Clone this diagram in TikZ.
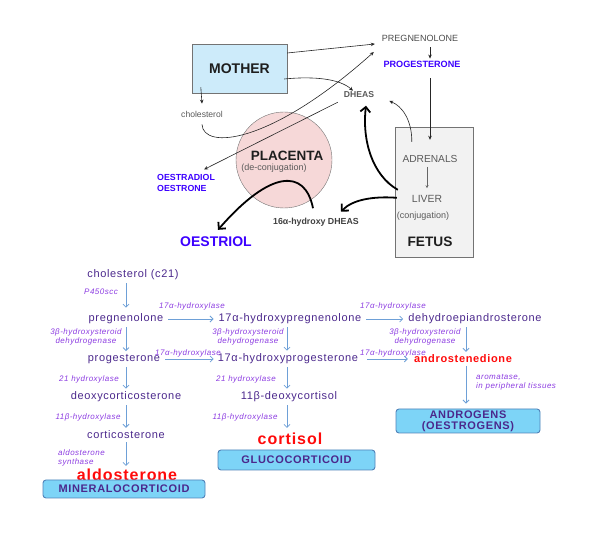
\documentclass[tikz,border=0pt]{standalone}
\usepackage{fontspec}
\setmainfont{Liberation Sans}
\newfontfamily\pathfont{Liberation Sans}[LetterSpace=6]
\usetikzlibrary{arrows.meta,calc}
\definecolor{ptext}{RGB}{75,40,140}
\definecolor{enzc}{RGB}{140,60,225}
\definecolor{hotred}{RGB}{255,10,10}
\definecolor{hblue}{RGB}{60,0,255}
\definecolor{arrowblue}{RGB}{110,160,215}
\definecolor{boxfill}{RGB}{125,212,247}
\definecolor{boxline}{RGB}{80,130,185}
\definecolor{motherfill}{RGB}{205,235,250}
\definecolor{placfill}{RGB}{246,216,216}
\definecolor{fetusfill}{RGB}{242,242,242}
\definecolor{gtext}{RGB}{90,90,90}
\definecolor{dtext}{RGB}{30,30,30}
\tikzset{
  ptxt/.style={font=\pathfont\fontsize{11}{13}\selectfont, text=ptext, inner sep=1pt},
  enz/.style={font=\pathfont\itshape\fontsize{8}{9}\selectfont, text=enzc, inner sep=0pt, align=center},
  hot/.style={font=\pathfont\bfseries\fontsize{11}{13}\selectfont, text=hotred, inner sep=1pt},
  bighot/.style={font=\pathfont\bfseries\fontsize{16}{18}\selectfont, text=hotred, inner sep=1pt},
  cbox/.style={draw=boxline, fill=boxfill, rounded corners=3pt, line width=0.9pt,
    font=\pathfont\bfseries\fontsize{11}{11}\selectfont, text=ptext, align=center, inner sep=0pt},
  parrow/.style={draw=arrowblue, line width=0.8pt, -{Straight Barb[length=3pt,width=6pt]},
    shorten >=2pt, shorten <=2pt},
  tarrow/.style={draw=black!85, line width=0.6pt, -{Stealth[length=4pt,width=3.5pt]}},
  fatarrow/.style={draw=black, line width=1.8pt, -{Straight Barb[length=5pt,width=10pt]}},
  gtxt/.style={text=gtext, inner sep=1pt},
}
\begin{document}
\begin{tikzpicture}[x=1pt,y=-1pt]
\useasboundingbox (0,0) rectangle (592,534);
% ---------------- top part ----------------
\node[draw=black!55, fill=motherfill, minimum width=95pt, minimum height=49pt,
  font=\bfseries\fontsize{14}{16}\selectfont, text=dtext] (mother) at (239.5,68.5) {MOTHER};
\node[circle, draw=black!55, fill=placfill, minimum size=96pt, inner sep=0pt] (plac) at (284,160) {};
\node[font=\bfseries\fontsize{13.5}{15}\selectfont, text=dtext, inner sep=0pt] (plact) at (287,156) {PLACENTA};
\node[font=\fontsize{9}{10}\selectfont, gtxt, inner sep=0pt] (deconj) at (274,168) {(de-conjugation)};
\node[draw=black!55, fill=fetusfill, minimum width=78pt, minimum height=130pt] (fetus) at (434,192) {};
\node[font=\fontsize{10.2}{12}\selectfont, gtxt] (adren) at (430,159) {ADRENALS};
\node[font=\fontsize{10.4}{12}\selectfont, gtxt] (liver) at (427,199) {LIVER};
\node[font=\fontsize{9}{10}\selectfont, gtxt] (conj) at (423,216) {(conjugation)};
\node[font=\bfseries\fontsize{13.7}{15}\selectfont, text=dtext] (fetust) at (430,242) {FETUS};
\node[font=\fontsize{9}{10}\selectfont, text=black!70, inner sep=1pt] (pregt) at (420,38) {PREGNENOLONE};
\node[font=\bfseries\fontsize{9.1}{10}\selectfont, text=hblue, inner sep=1pt] (progt) at (422,64) {PROGESTERONE};
\node[font=\bfseries\fontsize{8.6}{10}\selectfont, text=black!65, inner sep=1pt] (dheas) at (359,95) {DHEAS};
\node[font=\fontsize{8.6}{10}\selectfont, text=black!65, inner sep=1pt] (cholt) at (202,114) {cholesterol};
\node[font=\bfseries\fontsize{8.8}{10.5}\selectfont, text=hblue, align=left, inner sep=1pt, anchor=west]
  (oestr) at (156,183) {OESTRADIOL\\OESTRONE};
\node[font=\bfseries\fontsize{14}{16}\selectfont, text=hblue, inner sep=1pt] (oestriol) at (216,242) {OESTRIOL};
\node[font=\bfseries\fontsize{8.8}{10}\selectfont, text=black!75, inner sep=1pt] (hyd) at (316,222) {16α-hydroxy DHEAS};
% top connectors
\draw[tarrow] ([shift={(9pt,6pt)}]mother.south west) -- ([yshift=6pt]cholt.north);
\draw[tarrow] ([yshift=15.5pt]mother.east) -- ([shift={(-6pt,-6pt)}]pregt.west);
\draw[tarrow] ([shift={(-3pt,-10.5pt)}]mother.east) .. controls (315,76) and (340,79) .. ([xshift=-6pt]dheas.north);
\draw[tarrow] ([yshift=-6pt]cholt.south) .. controls (203,150) and (270,145) .. ([shift={(-7pt,-14pt)}]pregt.west);
\draw[tarrow] ([shift={(-5pt,-3pt)}]dheas.south west) -- ([shift={(-12pt,4pt)}]oestr.north east);
\draw[tarrow, shorten <=5pt] ([xshift=10pt]pregt.south) -- ([xshift=8pt,yshift=1pt]progt.north);
\draw[tarrow] ([shift={(8pt,-10pt)}]progt.south) -- ([shift={(-4pt,-13pt)}]fetus.north);
\draw[tarrow] ([shift={(17pt,-15pt)}]fetus.north west) .. controls (412,120) and (402,106) .. ([shift={(14pt,-6pt)}]dheas.east);
\draw[draw=black!60, line width=0.5pt, -{Stealth[length=3pt,width=3pt]}] ([shift={(-3pt,-3pt)}]adren.south) -- ([yshift=6pt]liver.north);
\draw[fatarrow] ([shift={(3pt,-63pt)}]fetus.north west) .. controls (372,175) and (362,140) .. ([shift={(7pt,-6.5pt)}]dheas.south);
\draw[fatarrow] ([shift={(2pt,-71pt)}]fetus.north west) .. controls (372,196) and (352,200) .. ([shift={(-19pt,5pt)}]hyd.north east);
\draw[fatarrow] ([shift={(-3pt,8.5pt)}]hyd.north) .. controls (305,168) and (270,170) .. ([shift={(2pt,6pt)}]oestriol.north);
% ---------------- bottom pathway ----------------
\node[ptxt] (chol) at (133,275) {cholesterol (c21)};
\node[ptxt] (preg) at (126,319) {pregnenolone};
\node[ptxt] (ohpreg) at (290,319) {17α-hydroxypregnenolone};
\node[ptxt] (dhea) at (475,319) {dehydroepiandrosterone};
\node[ptxt] (prog) at (124,359) {progesterone};
\node[ptxt] (ohprog) at (288,359) {17α-hydroxyprogesterone};
\node[hot] (andro) at (463,359) {androstenedione};
\node[ptxt] (doc) at (126,397) {deoxycorticosterone};
\node[ptxt] (dcort) at (289,397) {11β-deoxycortisol};
\node[ptxt] (cortico) at (126,435) {corticosterone};
\node[bighot] (aldo) at (127,475) {aldosterone};
\node[bighot] (cortisol) at (290,439) {cortisol};
\node[cbox, minimum width=162pt, minimum height=18pt] (mineral) at (124,489) {MINERALOCORTICOID};
\node[cbox, minimum width=157pt, minimum height=20pt] (gluco) at (296.5,460) {GLUCOCORTICOID};
\node[cbox, minimum width=144pt, minimum height=24pt] (androbox) at (468,421) {ANDROGENS\\(OESTROGENS)};
% enzyme labels
\node[enz, anchor=west] (e1) at (84,292) {P450scc};
\node[enz] (e2) at (192,306) {17α-hydroxylase};
\node[enz] (e3) at (393,306) {17α-hydroxylase};
\node[enz] (e4) at (86,336.5) {3β-hydroxysteroid\\dehydrogenase};
\node[enz] (e5) at (248,336.5) {3β-hydroxysteroid\\dehydrogenase};
\node[enz] (e6) at (425,336.5) {3β-hydroxysteroid\\dehydrogenase};
\node[enz] (e7) at (188,353) {17α-hydroxylase};
\node[enz] (e8) at (393,353) {17α-hydroxylase};
\node[enz] (e9) at (89,379) {21 hydroxylase};
\node[enz] (e10) at (246,379) {21 hydroxylase};
\node[enz] (e11) at (88,417) {11β-hydroxylase};
\node[enz] (e12) at (245,417) {11β-hydroxylase};
\node[enz, anchor=west, align=left] (e13) at (58,457.5) {aldosterone\\synthase};
\node[enz, anchor=west, align=left] (e14) at (476,382.5) {aromatase,\\in peripheral tissues};
% pathway arrows
\draw[parrow, shorten >=5pt] (chol.south -| preg.north) -- (preg.north);
\draw[parrow] (preg.south) -- (preg.south |- prog.north);
\draw[parrow] (prog.south -| doc.north) -- (doc.north);
\draw[parrow] (doc.south) -- (cortico.north);
\draw[parrow] (cortico.south) -- (cortico.south |- aldo.north);
\draw[parrow, shorten <=4pt, shorten >=4pt] (preg.east) -- (ohpreg.west);
\draw[parrow, shorten <=4pt, shorten >=4pt] (ohpreg.east) -- (dhea.west);
\draw[parrow, shorten <=4pt, shorten >=3pt] (prog.east) -- (ohprog.west);
\draw[parrow, shorten <=8pt, shorten >=5pt] (ohprog.east) -- (andro.west);
\draw[parrow] ([xshift=-3pt]ohpreg.south) -- ([xshift=-3pt]ohpreg.south |- ohprog.north);
\draw[parrow] ([xshift=-1pt]ohprog.south) -- ([xshift=-1pt]ohprog.south |- dcort.north);
\draw[parrow, shorten >=4pt] ([xshift=-2pt]dcort.south) -- ([xshift=-2pt]dcort.south |- cortisol.north);
\draw[parrow] ([xshift=-9pt]dhea.south) -- ([xshift=-9pt]dhea.south |- andro.north);
\draw[parrow, shorten >=5pt] ([xshift=3pt]andro.south) -- ([xshift=3pt]andro.south |- androbox.north);
\end{tikzpicture}
\end{document}
